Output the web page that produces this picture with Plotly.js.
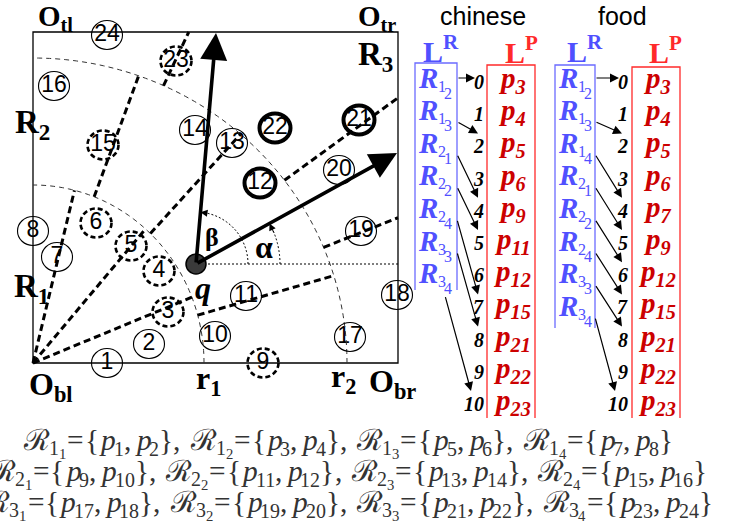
<!DOCTYPE html>
<html><head><meta charset="utf-8">
<script src="https://cdn.plot.ly/plotly-3.0.1.min.js"></script>
<style>html,body{margin:0;padding:0;background:#fff}</style>
</head><body><div id="chart" style="width:751px;height:527px"></div>
<script>
// ---------- data ----------
const ptLabels = ['1','2','3','4','5','6','7','8','9','10','11','12','13','14','15','16','17','18','19','20','21','22','23','24'];
const ptX = [107,149,168,159,131,96,57,33, 263,215,246,260,232,195,103,54, 350,397,361,339,359,275,176,107];
const ptY = [363,344,312,271,246,223,257,231, 363,336,296,183,143,130,145,86, 337,295,231,170,120,128,61,35];
const ptStyle = ['thin','thin','dash','dash','dash','dash','thin','thin','dash','thin','thin','bold','thin','thin','dash','thin','thin','thin','thin','thin','bold','bold','dash','thin'];

const ring1Angles = [22.5, 50, 76.5];
const ring2Angles = [16.2, 47.8, 69.8];
const ring3Angles = [21.7, 36, 64.8];

const chineseR = [['1','2'],['1','3'],['2','1'],['2','2'],['2','4'],['3','3'],['3','4']];
const chineseP = [3,4,5,6,9,11,12,15,21,22,23];
const chineseLinks = [0,2,4,5,7,8,10];
const foodR = [['1','2'],['1','3'],['1','4'],['2','1'],['2','2'],['2','4'],['3','3'],['3','4']];
const foodP = [3,4,5,6,7,9,12,15,21,22,23];
const foodLinks = [0,2,4,5,6,7,8,10];

const regionSets = [
  [[1,2],[3,4],[5,6],[7,8]],
  [[9,10],[11,12],[13,14],[15,16]],
  [[17,18],[19,20],[21,22],[23,24]]
];

// ---------- geometry / style ----------
const W = 751, H = 527;
const O = {x:33, y:363};
const SQ = {x0:33, y0:32, x1:398, y1:363};
const R1 = {rx:171, ry:178};
const R2 = {rx:314, ry:305};
const Q = {x:196, y:264};
const alphaTip = {x:397, y:153};
const betaTip = {x:216, y:33};
const BLUE = '#5050ff', BLUEBOX = '#6b6bff', RED = '#ff2a2a', DRED = '#cc0000';
const SERIF = 'Liberation Serif, Times New Roman, serif';
const SANS = 'Liberation Sans, Arial, sans-serif';

const rad = d => d*Math.PI/180;
function onEllipse(ang, e){
  const c=Math.cos(rad(ang)), s=Math.sin(rad(ang));
  const t = 1/Math.sqrt((c/e.rx)**2 + (s/e.ry)**2);
  return {x:O.x+t*c, y:O.y-t*s};
}
function toBorder(ang){
  const c=Math.cos(rad(ang)), s=Math.sin(rad(ang));
  const t = Math.min((SQ.x1-O.x)/c, (O.y-SQ.y0)/s);
  return {x:O.x+t*c, y:O.y-t*s};
}

const shapes = [];
const annotations = [];

// square
shapes.push({type:'rect', xref:'x', yref:'y', x0:SQ.x0, y0:SQ.y0, x1:SQ.x1, y1:SQ.y1, line:{color:'#000', width:1.3}});

// arcs r1, r2
function arcPath(e){
  let p='';
  for(let a=0;a<=90;a+=1){
    const x=O.x+e.rx*Math.cos(rad(a)), y=O.y-e.ry*Math.sin(rad(a));
    p += (a===0?'M':'L')+x.toFixed(2)+','+y.toFixed(2);
  }
  return p;
}
[R1,R2].forEach(e=>shapes.push({type:'path', xref:'x', yref:'y', path:arcPath(e), line:{color:'#333', width:1, dash:'5px,4px'}}));

// rays
const rayLine = {color:'#000', width:3, dash:'7px,4px'};
ring1Angles.forEach(a=>{const p=onEllipse(a,R1); shapes.push({type:'line',xref:'x',yref:'y',x0:O.x,y0:O.y,x1:p.x,y1:p.y,line:rayLine});});
ring2Angles.forEach(a=>{const p=onEllipse(a,R1), q=onEllipse(a,R2); shapes.push({type:'line',xref:'x',yref:'y',x0:p.x,y0:p.y,x1:q.x,y1:q.y,line:rayLine});});
ring3Angles.forEach(a=>{const p=onEllipse(a,R2), q=toBorder(a); shapes.push({type:'line',xref:'x',yref:'y',x0:p.x,y0:p.y,x1:q.x,y1:q.y,line:rayLine});});

// dotted horizontal from q
shapes.push({type:'line',xref:'x',yref:'y',x0:Q.x,y0:Q.y,x1:SQ.x1,y1:Q.y,line:{color:'#000',width:1.2,dash:'2px,2px'}});

// point circles
const CR = {rx:15.5, ry:14.5};
ptX.forEach((x,i)=>{
  const st = ptStyle[i];
  const line = st==='bold' ? {color:'#000',width:4} : st==='dash' ? {color:'#000',width:2.6,dash:'5px,3px'} : {color:'#000',width:1.1};
  shapes.push({type:'circle',xref:'x',yref:'y',x0:x-CR.rx,x1:x+CR.rx,y0:ptY[i]-CR.ry,y1:ptY[i]+CR.ry,line:line});
});

// angle arcs alpha / beta
function angArc(r, a1){
  let p=''; const n=30;
  for(let k=0;k<=n;k++){const a=a1*k/n; const x=Q.x+r*Math.cos(rad(a)), y=Q.y-r*Math.sin(rad(a)); p+=(k===0?'M':'L')+x.toFixed(2)+','+y.toFixed(2);}
  return p;
}
const alphaAng = Math.atan2(Q.y-alphaTip.y, alphaTip.x-Q.x)*180/Math.PI;
const betaAng = Math.atan2(Q.y-betaTip.y, betaTip.x-Q.x)*180/Math.PI;
[[84,alphaAng],[52,betaAng]].forEach(([r,a])=>{
  shapes.push({type:'path',xref:'x',yref:'y',path:angArc(r,a-4),line:{color:'#000',width:1,dash:'2px,2px'}});
  const tip={x:Q.x+r*Math.cos(rad(a)), y:Q.y-r*Math.sin(rad(a))};
  const tail={x:Q.x+r*Math.cos(rad(a-8)), y:Q.y-r*Math.sin(rad(a-8))};
  annotations.push({x:tip.x,y:tip.y,ax:tail.x,ay:tail.y,xref:'x',yref:'y',axref:'x',ayref:'y',text:'',showarrow:true,arrowhead:2,arrowsize:1.4,arrowwidth:1,arrowcolor:'#000',standoff:0});
});

// thick arrows from q
[alphaTip,betaTip].forEach(t=>annotations.push({x:t.x,y:t.y,ax:Q.x,ay:Q.y,xref:'x',yref:'y',axref:'x',ayref:'y',text:'',showarrow:true,arrowhead:2,arrowsize:1.5,arrowwidth:3.6,arrowcolor:'#000',standoff:0}));

// q marker
shapes.push({type:'circle',xref:'x',yref:'y',x0:Q.x-10,x1:Q.x+10,y0:Q.y-10,y1:Q.y+10,fillcolor:'#3a3a3a',line:{color:'#000',width:1.5}});

// ---------- text helpers ----------
function lab(x,y,text,size,opts){annotations.push(Object.assign({x:x,y:y,xref:'x',yref:'y',text:text,showarrow:false,xanchor:'center',yanchor:'middle',font:{family:SERIF,size:size,color:'#000'}},opts||{}));}
const cv = document.createElement('canvas').getContext('2d');
function measure(t,size,family,b,i){cv.font=`${i?'italic ':''}${b?'bold ':''}${size}px ${family}`;return cv.measureText(t).width;}
// segments: {t,size,b,i,dy,kern}; yb = baseline (pixels); placed in paper coords so text may run off the edge
function rich(segs, x0, yb, color, fam, anchor){
  const w = segs.map(s=>measure(s.t,s.size,fam,s.b,s.i)+(s.kern||0));
  const total = w.reduce((a,b)=>a+b,0);
  let x = anchor==='center' ? x0-total/2 : x0;
  segs.forEach((s,k)=>{
    let tx = s.t; if(s.i) tx='<i>'+tx+'</i>'; if(s.b) tx='<b>'+tx+'</b>';
    const yc = yb+(s.dy||0)-0.34*s.size;
    annotations.push({x:x/W,y:1-yc/H,xref:'paper',yref:'paper',text:tx,showarrow:false,xanchor:'left',yanchor:'middle',borderpad:0,font:{family:fam,size:s.size,color:color}});
    x += w[k];
  });
  return total;
}
const FAMQ = '"Liberation Serif", serif';

// corner / region labels
lab(55,18,'<b>O<sub>tl</sub></b>',29);
lab(377,18,'<b>O<sub>tr</sub></b>',29);
lab(375,56,'<b>R<sub>3</sub></b>',33);
lab(32,124,'<b>R<sub>2</sub></b>',33);
lab(31,288,'<b>R<sub>1</sub></b>',33);
lab(51,386,'<b>O<sub>bl</sub></b>',32);
lab(392,383,'<b>O<sub>br</sub></b>',32);
lab(208,380,'<b>r<sub>1</sub></b>',32);
lab(343,378,'<b>r<sub>2</sub></b>',32);
lab(203,288,'<b><i>q</i></b>',32);
lab(212,237,'<b>β</b>',26);
lab(264,247,'<b>α</b>',32);

// ---------- lists ----------
function buildList(R, P, links, c){
  lab(c.titleX, 16, c.title, 25, {font:{family:SANS,size:25,color:'#000'}});
  lab(c.LRx, 49, '<b>L<sup>R</sup></b>', 30, {font:{family:SERIF,size:30,color:BLUE}});
  lab(c.LPx, 50, '<b>L<sup>P</sup></b>', 30, {font:{family:SERIF,size:30,color:RED}});
  shapes.push({type:'path',xref:'x',yref:'y',path:`M${c.bL},${c.bB}L${c.bL},${c.bT}L${c.bR},${c.bT}L${c.bR},${c.bB}`,line:{color:BLUEBOX,width:1.3}});
  shapes.push({type:'path',xref:'x',yref:'y',path:`M${c.rL},${c.rB}L${c.rL},${c.rT}L${c.rR},${c.rT}L${c.rR},${c.rB}`,line:{color:RED,width:1.3}});
  const rY = i => 78 + 32.6*i;      // cap centre of R
  const pY = j => 80 + 32.2*j;
  R.forEach((r,i)=>{
    rich([{t:'R',size:29,b:true,i:true,kern:1},{t:r[0],size:16,dy:4,kern:-2},{t:r[1],size:16,dy:11}], c.bL+2, rY(i)+9.5, BLUE, FAMQ, 'left');
  });
  P.forEach((p,j)=>{
    lab(c.pX, pY(j), `<b><i>p<sub>${p}</sub></i></b>`, 29, {font:{family:SERIF,size:29,color:DRED}});
    lab(c.numR, pY(j)+2, `<b><i>${j}</i></b>`, 20, {xanchor:'right'});
  });
  links.forEach((j,i)=>{
    let sx=c.bR, sy=rY(i)+11;
    if(sy > c.bB-6){ sx=c.bR-12; sy=rY(i)+22; }
    let tx, ty;
    if(j===0){ tx=c.numR-11; ty=pY(0)-2; sy=ty; }
    else { tx=c.numR-(String(j).length>1?15:8); ty=pY(j)-11; }
    annotations.push({x:tx,y:ty,ax:sx,ay:sy,xref:'x',yref:'y',axref:'x',ayref:'y',text:'',showarrow:true,arrowhead:2,arrowsize:1.5,arrowwidth:1.2,arrowcolor:'#000',standoff:0});
  });
}
buildList(chineseR, chineseP, chineseLinks, {title:'chinese', titleX:483, LRx:441, LPx:521, bL:415,bR:457,bT:63,bB:290, rL:487,rR:535,rT:65,rB:418, numR:486, pX:512});
buildList(foodR, foodP, foodLinks, {title:'food', titleX:622, LRx:585, LPx:665, bL:555,bR:595,bT:65,bB:328, rL:632,rR:680,rT:67,rB:418, numR:630, pX:657});

// ---------- formulas ----------
const formulaBase = [450, 481, 512];
function formulaSegs(i, ring, S){
  const segs=[];
  ring.forEach((pp,j)=>{
    segs.push({t:'ℛ',size:S},{t:String(i+1),size:S*0.68,dy:S*0.15},{t:String(j+1),size:S*0.5,dy:S*0.3,kern:1},
      {t:'=',size:S,kern:1},{t:'{',size:S},{t:'p',size:S,i:true},{t:String(pp[0]),size:S*0.68,dy:S*0.2},
      {t:',',size:S,kern:S*0.12},{t:'p',size:S,i:true},{t:String(pp[1]),size:S*0.68,dy:S*0.2},{t:'}',size:S});
    if(j<ring.length-1) segs.push({t:',',size:S,kern:S*0.3});
  });
  return segs;
}
const FAMF = '"Liberation Serif", "DejaVu Serif", serif';
const w1 = formulaSegs(0, regionSets[0], 22).map(s=>measure(s.t,s.size,FAMF,s.b,s.i)+(s.kern||0)).reduce((a,b)=>a+b,0);
const FS = 22*650/w1;
regionSets.forEach((ring,i)=>rich(formulaSegs(i, ring, FS), 347, formulaBase[i], '#333', FAMF, 'center'));

// ---------- plot ----------
const trace = {type:'scatter', mode:'text', x:ptX, y:ptY, text:ptLabels, textposition:'middle center',
  textfont:{family:SANS, size:23, color:'#000'}, hoverinfo:'skip', showlegend:false, cliponaxis:false};

Plotly.newPlot('chart',[trace],{
  width:W, height:H, margin:{l:0,r:0,t:0,b:0},
  paper_bgcolor:'#fff', plot_bgcolor:'#fff',
  xaxis:{range:[0,W], visible:false, fixedrange:true},
  yaxis:{range:[H,0], visible:false, fixedrange:true},
  shapes:shapes, annotations:annotations, showlegend:false
},{staticPlot:true});
</script></body></html>
